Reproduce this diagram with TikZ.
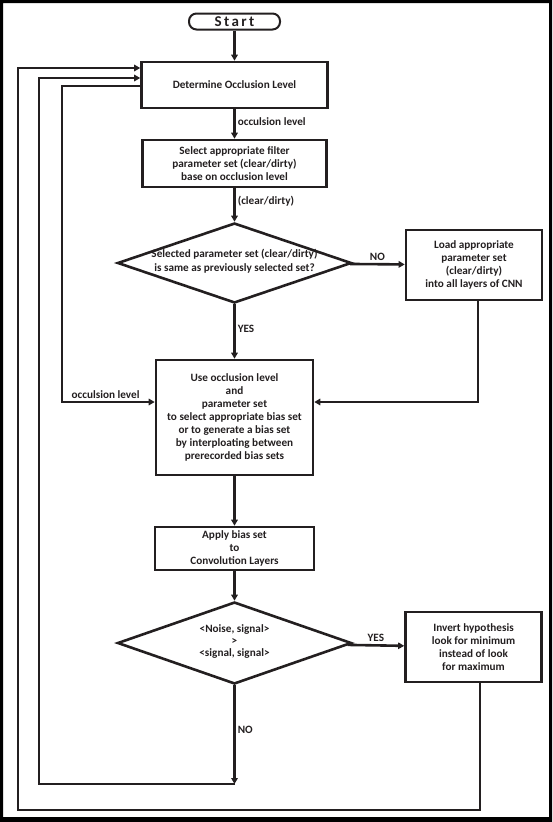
\documentclass[tikz,border=0pt]{standalone}
\usepackage{fontspec}
\setmainfont{Carlito}
\usetikzlibrary{arrows.meta,shapes.geometric}
\definecolor{ink}{RGB}{35,31,32}
\begin{document}
\begin{tikzpicture}[x=1pt,y=-1pt,
  txt/.style={font=\bfseries\fontsize{11.2}{13}\selectfont,text=ink},
  box/.style={txt,draw=ink,line width=2.6pt,inner sep=0pt,align=center},
  dia/.style={txt,diamond,draw=ink,line width=2.6pt,inner sep=0pt},
  arr/.style={draw=ink,line width=2.6pt,-{Triangle[length=6pt,width=6.5pt]}},
  lab/.style={txt,inner sep=2pt}]
% frame
\fill[black,even odd rule] (0,0) rectangle (552,822) (3,3) rectangle (549,817);
% helper coordinates
\coordinate (y68) at (0,68);
\coordinate (y78) at (0,78);
\coordinate (y86) at (0,86);
\coordinate (y402) at (0,402);
\coordinate (y810) at (0,810);
\coordinate (x17) at (17.8,0);
\coordinate (x38) at (39,0);
\coordinate (x62) at (62,0);
\coordinate (x478) at (478,0);
\coordinate (x480) at (480,0);
% nodes
\node[box,rounded corners=7.5pt,line width=2pt,minimum width=91pt,minimum height=16pt,font=\bfseries\fontsize{15}{16}\selectfont\addfontfeatures{LetterSpace=16}] (start) at (234.5,21.5) {Start};
\node[box,minimum width=186pt,minimum height=46pt] (det) at (234.5,85) {Determine Occlusion Level};
\node[box,minimum width=184pt,minimum height=47pt] (sel) at (234.5,163.5) {Select appropriate filter\\parameter set (clear/dirty)\\base on occlusion level};
\node[dia,minimum width=234pt,minimum height=80pt] (d1) at (234.5,263) {\makebox[0pt]{\smash{\raisebox{-2pt}{\begin{tabular}{@{}c@{}}Selected parameter set (clear/dirty)\\[1pt]is same as previously selected set?\end{tabular}}}}};
\node[box,minimum width=136pt,minimum height=70pt] (load) at (474,265) {Load appropriate\\parameter set\\(clear/dirty)\\into all layers of CNN};
\node[box,minimum width=157pt,minimum height=115pt] (use) at (234.5,417.5) {Use occlusion level\\and\\parameter set\\to select appropriate bias set\\or to generate a bias set\\by interploating between\\prerecorded bias sets};
\node[box,minimum width=159pt,minimum height=43pt] (apply) at (234.5,548.5) {Apply bias set\\to\\Convolution Layers};
\node[dia,minimum width=234pt,minimum height=82pt] (d2) at (234.5,643) {\makebox[0pt]{\smash{\raisebox{-2pt}{\begin{tabular}{@{}c@{}}<Noise, signal>\\[-1pt]>\\[-1pt]<signal, signal>\end{tabular}}}}};
\node[box,minimum width=136pt,minimum height=70pt] (inv) at (473.5,647) {Invert hypothesis\\look for minimum\\instead of look\\for maximum};
\coordinate (c1) at (234.5,784);
% connectors
\draw[arr] (start) -- (det);
\draw[arr] (det) -- node[lab,right,pos=0.42] {occulsion level} (sel);
\draw[arr] (sel) -- node[lab,right,pos=0.38] {(clear/dirty)} (d1);
\draw[arr] (d1) -- node[lab,above] {NO} (load);
\draw[arr] (d1) -- node[lab,right,pos=0.45] {YES} (use);
\draw[arr] (load.south -| x478) -- (x478 |- y402) -- (use.east |- y402);
\draw[arr] (det.west |- y86) -- (x62 |- y86) -- (x62 |- y402) -- node[lab,above,pos=0.47] {occulsion level} (use.west |- y402);
\draw[arr] (use) -- (apply);
\draw[arr] (apply) -- (d2);
\draw[arr] (d2) -- node[lab,above] {YES} (inv);
\draw[arr] (d2) -- node[lab,right,pos=0.45] {NO} (c1);
\draw[arr] (c1) -- (x38 |- c1) -- (x38 |- y78) -- (det.west |- y78);
\draw[arr] (inv.south -| x480) -- (x480 |- y810) -- (x17 |- y810) -- (x17 |- y68) -- (det.west |- y68);
\end{tikzpicture}
\end{document}
